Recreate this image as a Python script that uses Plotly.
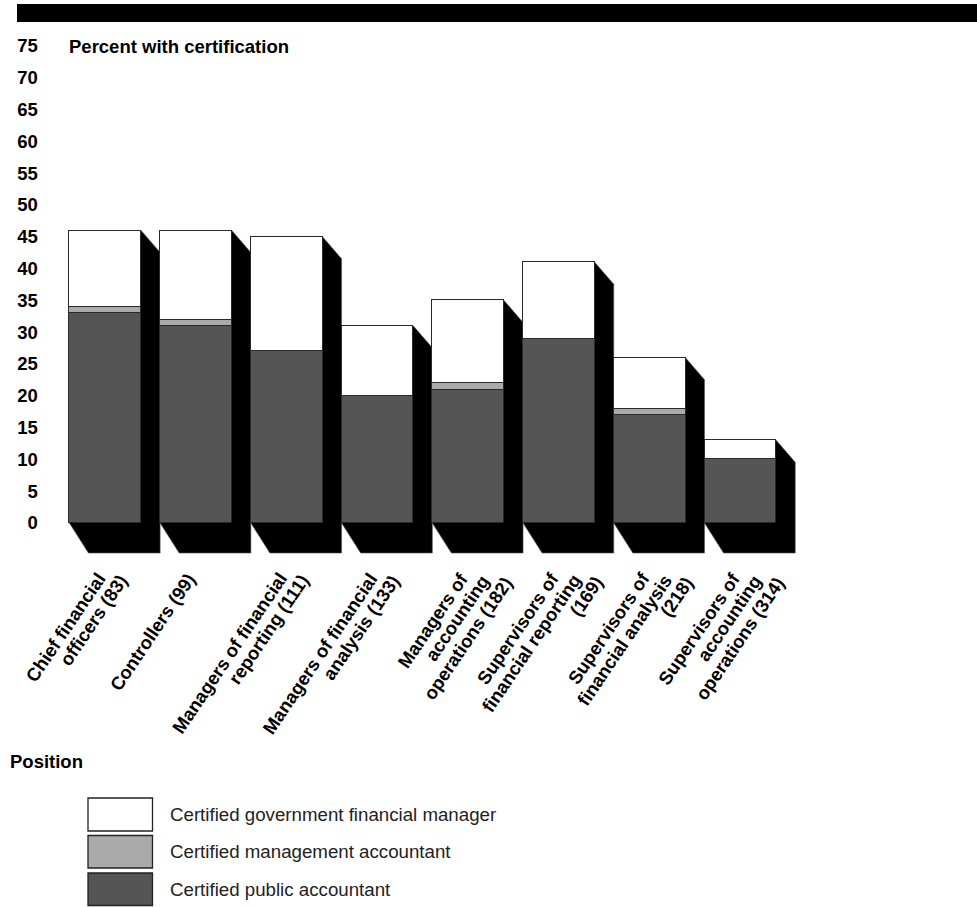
import plotly.graph_objects as go

# Positions surveyed (number of respondents); <br> separates label lines
positions = [
    "Chief financial<br>officers (83)",
    "Controllers (99)",
    "Managers of financial<br>reporting (111)",
    "Managers of financial<br>analysis (133)",
    "Managers of<br>accounting<br>operations (182)",
    "Supervisors of<br>financial reporting<br>(169)",
    "Supervisors of<br>financial analysis<br>(218)",
    "Supervisors of<br>accounting<br>operations (314)",
]

# Percent holding each certification
cpa = [33, 31, 27, 20, 21, 29, 17, 10]
cma = [1, 1, 0, 0, 1, 0, 1, 0]
cgfm = [12, 14, 18, 11, 13, 12, 8, 3]

series_names = [
    "Certified government financial manager",
    "Certified management accountant",
    "Certified public accountant",
]
series_colors = ["#ffffff", "#aaaaaa", "#555555"]

y_ticks = list(range(0, 80, 5))

W, H = 977, 907
FONT = "Liberation Sans, Arial, Helvetica, sans-serif"


def fx(px):
    return px / W


def fy(py):
    return (H - py) / H


x = list(range(len(positions)))
bar_w = 0.79

fig = go.Figure()
for vals, name, color in [
    (cpa, series_names[2], series_colors[2]),
    (cma, series_names[1], series_colors[1]),
    (cgfm, series_names[0], series_colors[0]),
]:
    fig.add_trace(go.Bar(
        x=x, y=vals, name=name, width=bar_w,
        marker=dict(color=color, line=dict(color="#2a2a2a", width=1.3)),
        showlegend=False, hoverinfo="skip",
    ))

# Black extruded side/bottom faces behind each bar
depth_x = 0.21
top_drop = 3.46
bottom_drop = 4.72
for i, (a, b, c) in enumerate(zip(cpa, cma, cgfm)):
    total = a + b + c
    L = i - bar_w / 2
    R = i + bar_w / 2
    path = (f"M {L},0 L {L + depth_x},{-bottom_drop} L {R + depth_x},{-bottom_drop} "
            f"L {R + depth_x},{total - top_drop} L {R},{total} Z")
    fig.add_shape(type="path", path=path, xref="x", yref="y",
                  fillcolor="black", line=dict(color="#555", width=0.6),
                  layer="below")

# Slanted category labels: one rotated text line each, stepped up the slope
LABEL_ANGLE = -56
label_top = 569
for i, label in enumerate(positions):
    for k, line in enumerate(label.split("<br>")):
        fig.add_annotation(
            text=line, x=i, xref="x", y=fy(label_top + 2 * k), yref="paper",
            xanchor="right", yanchor="top", xshift=4 + 22 * k,
            textangle=LABEL_ANGLE, showarrow=False, borderpad=0, borderwidth=0,
            font=dict(family=FONT, size=18.5, color="black", weight="bold"),
        )

# Header band
fig.add_shape(type="rect", xref="paper", yref="paper",
              x0=fx(17), x1=1.0, y0=fy(22), y1=fy(4),
              fillcolor="black", line=dict(width=0))

# Legend boxes and labels
legend_rows = [(798, 831), (835.5, 868), (873, 905.5)]
for (t, b), name, color in zip(legend_rows, series_names, series_colors):
    fig.add_shape(type="rect", xref="paper", yref="paper",
                  x0=fx(88), x1=fx(152.5), y0=fy(b), y1=fy(t),
                  fillcolor=color, line=dict(color="#222", width=1.3))
    fig.add_annotation(text=name, xref="paper", yref="paper",
                       x=fx(168), y=fy((t + b) / 2), xanchor="left", yanchor="middle",
                       showarrow=False, font=dict(family=FONT, size=18.7, color="#222"))

fig.add_annotation(text="Percent with certification", xref="paper", yref="paper",
                   x=fx(67), y=fy(47), xanchor="left", yanchor="middle", showarrow=False,
                   font=dict(family=FONT, size=18.5, color="black", weight="bold"))
fig.add_annotation(text="Position", xref="paper", yref="paper",
                   x=fx(8), y=fy(761), xanchor="left", yanchor="middle", showarrow=False,
                   font=dict(family=FONT, size=18.5, color="black", weight="bold"))

y0_px, unit_px = 523, 6.36
y_lo, y_hi = -6, 78
fig.update_layout(
    width=W, height=H,
    margin=dict(l=0, r=0, t=0, b=0),
    paper_bgcolor="white", plot_bgcolor="white",
    barmode="stack", bargap=0,
    font=dict(family=FONT, color="black"),
    xaxis=dict(
        domain=[fx(39.9), fx(858.3)], range=[-0.72, 8.3],
        tickmode="array", tickvals=x, showticklabels=False,
        showgrid=False, zeroline=False, showline=False, ticks="",
        automargin=False,
    ),
    yaxis=dict(
        domain=[fy(y0_px - unit_px * y_lo), fy(y0_px - unit_px * y_hi)],
        range=[y_lo, y_hi],
        tickmode="array", tickvals=y_ticks,
        tickfont=dict(family=FONT, size=18.5, weight="bold"),
        showgrid=False, zeroline=False, showline=False, ticks="",
        ticklabelstandoff=1,
        automargin=False,
    ),
)

fig.write_html("out.html")
